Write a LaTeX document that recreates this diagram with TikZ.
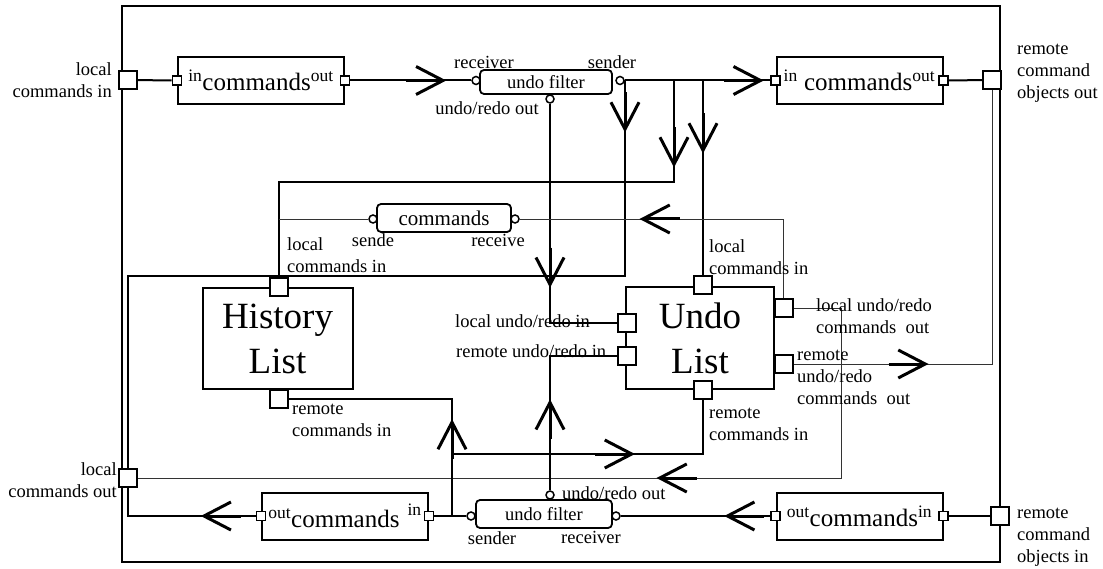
\documentclass[tikz,border=0pt]{standalone}
\usepackage{fontspec}
\setmainfont{Liberation Serif}
\usetikzlibrary{arrows.meta}
\usetikzlibrary{decorations.markings}

\newcommand{\labelsize}{\fontsize{18.5}{22}\selectfont}
\newcommand{\bigsize}{\fontsize{37}{45}\selectfont}
\newcommand{\cmdsize}{\fontsize{25}{30}\selectfont}

\begin{document}
\begin{tikzpicture}[x=1pt,y=-1pt,
    thickline/.style={line width=2pt},
    thinline/.style={line width=0.9pt,black!80},
    flowat/.style={postaction={decorate},decoration={markings,mark=at position #1 with {\draw[line width=3pt,black,-{Straight Barb[length=27pt,width=28pt,line width=3pt]}] (-40pt,0pt) -- (0pt,0pt);}}},
    bigport/.style={draw,line width=2pt,fill=white,minimum size=18pt,inner sep=0pt},
    smallport/.style={draw,line width=1.6pt,fill=white,minimum size=9pt,inner sep=0pt},
    pin/.style={circle,draw,line width=1.5pt,fill=white,minimum size=8pt,inner sep=0pt},
    cmdbox/.style={draw,line width=2pt,minimum width=166pt,minimum height=47pt,inner sep=0pt,font=\cmdsize},
    filter/.style={draw,line width=1.8pt,rounded corners=4pt,minimum width=132pt,minimum height=24pt,inner sep=0pt,font=\labelsize},
    listbox/.style={draw,line width=2pt,minimum width=150pt,minimum height=101pt,align=center,font=\bigsize},
    lbl/.style={font=\labelsize,inner sep=0pt}
  ]
  \fill[white] (0,0) rectangle (1103,569);
  \useasboundingbox (0,0) rectangle (1103,569);

  \node[draw,line width=2.4pt,minimum width=878pt,minimum height=556pt] (system) at (561,284) {};

  \coordinate (dropA) at (625,80.5);
  \coordinate (dropB) at (674,80.5);
  \coordinate (dropC) at (703,80.5);
  \coordinate (bendA) at (625,276);
  \coordinate (bendB) at (127.5,276);
  \coordinate (bendC) at (674,182);
  \coordinate (bendD) at (279,182);
  \coordinate (bendE) at (550,323);
  \coordinate (bendF) at (127.5,516);
  \coordinate (bendG) at (279,219);
  \coordinate (bendH) at (783.5,219);
  \coordinate (bendI) at (841,308);
  \coordinate (bendJ) at (841,478);
  \coordinate (bendK) at (992,364);
  \coordinate (splitA) at (452,516);
  \coordinate (bendL) at (452,398.5);
  \coordinate (splitB) at (452,454);
  \coordinate (bendM) at (703,454);
  \coordinate (bendN) at (550,356);

  \node[cmdbox] (cmdA) at (261,80.5) {\textsuperscript{in}commands\textsuperscript{out}};
  \node[cmdbox] (cmdB) at (859.5,80.5) {\textsuperscript{in} commands\textsuperscript{out}};
  \node[cmdbox] (cmdC) at (345,516) {\textsuperscript{out}commands\kern8pt\raisebox{3pt}{\textsuperscript{in}}};
  \node[cmdbox] (cmdD) at (859.5,516) {\textsuperscript{out}commands\textsuperscript{in}};

  \node[filter] (filtT) at (546,82) {undo filter};
  \node[filter,minimum width=136pt,minimum height=28pt] (filtB) at (544,514) {undo filter};
  \node[filter,minimum width=134pt,minimum height=28pt,font=\fontsize{21}{24}\selectfont] (cmdM) at (444,218) {commands};

  \node[listbox] (hist) at (277.5,338.5) {History\\List};
  \node[listbox,minimum width=148pt] (undo) at (700,338) {Undo\\List};

  \begin{scope}[every node/.style={bigport}]
    \node (lci) at (127.5,80) {};
    \node (rcoo) at (992,80) {};
    \node (lco) at (127.5,478) {};
    \node (rcoi) at (1000,516) {};
    \node (histIn) at (279,287.5) {};
    \node (histRem) at (279,398.5) {};
    \node (undoIn) at (703,285) {};
    \node (undoRem) at (703,390) {};
    \node (undoLin) at (627,323) {};
    \node (undoRin) at (627,356) {};
    \node (undoLout) at (783.5,308) {};
    \node (undoRout) at (783.5,364) {};
  \end{scope}

  \begin{scope}[every node/.style={smallport}]
    \node (cmdAin) at (cmdA.west) {};
    \node (cmdAout) at (cmdA.east) {};
    \node (cmdBin) at (cmdB.west) {};
    \node (cmdBout) at (cmdB.east) {};
    \node (cmdCout) at (cmdC.west) {};
    \node (cmdCin) at (cmdC.east) {};
    \node (cmdDout) at (cmdD.west) {};
    \node (cmdDin) at (cmdD.east) {};
  \end{scope}

  \begin{scope}[every node/.style={pin}]
    \node (filtTrcv) at (476,80.5) {};
    \node (filtTsnd) at (620,80.5) {};
    \node (filtTout) at (550,99) {};
    \node (filtBsnd) at (471,516) {};
    \node (filtBrcv) at (616,516) {};
    \node (filtBout) at (550,495) {};
    \node (cmdMsnd) at (373,219) {};
    \node (cmdMrcv) at (515,219) {};
  \end{scope}

  \draw[thickline] (lci) -- (cmdAin);
  \draw[thickline,flowat=96pt] (cmdAout) -- (filtTrcv);
  \draw[thickline,flowat=139pt] (filtTsnd) -- (cmdBin);
  \draw[thickline] (cmdBout) -- (rcoo);
  \draw[thickline,flowat=52pt] (dropA) -- (bendA) -- (bendB) -- (lco);
  \draw[thickline,flowat=87pt] (dropB) -- (bendC) -- (bendD) -- (histIn);
  \draw[thickline,flowat=73pt] (dropC) -- (undoIn);
  \draw[thickline,flowat=184pt] (filtTout) -- (bendE) -- (undoLin);
  \draw[thinline] (cmdMsnd) -- (bendG);
  \draw[thinline,flowat=223pt] (undoLout) -- (bendH) -- (cmdMrcv);
  \draw[thinline,flowat=402pt] (undoLout) -- (bendI) -- (bendJ) -- (lco);
  \draw[thinline,flowat=135pt] (undoRout) -- (bendK) -- (rcoo);
  \draw[thickline] (rcoi) -- (cmdDin);
  \draw[thickline,flowat=46pt] (cmdDout) -- (filtBrcv);
  \draw[thickline] (filtBsnd) -- (cmdCin);
  \draw[thickline,flowat=55pt] (cmdCout) -- (bendF) -- (lco);
  \draw[thickline,flowat=97pt] (splitA) -- (bendL) -- (histRem);
  \draw[thickline,flowat=183pt] (splitB) -- (bendM) -- (undoRem);
  \draw[thickline,flowat=91pt] (filtBout) -- (bendN) -- (undoRin);

  \begin{scope}[every node/.style={lbl}]
    \node[align=right,anchor=east] (lciLbl) at (112,80) {local\\commands in};
    \node[align=right,anchor=east] (lcoLbl) at (117,480) {local\\commands out};
    \node[align=left,anchor=west] (rcooLbl) at (1017,73) {remote\\command\\objects out};
    \node[align=left,anchor=west] (rcoiLbl) at (1017,537) {remote\\command\\objects in};
    \node (rcvTLbl) at (484,62) {receiver};
    \node (outTLbl) at (487,108) {undo/redo out};
    \node (sndTLbl) at (612,62) {sender};
    \node (sndMLbl) at (373,240) {sende};
    \node (rcvMLbl) at (498,240) {receive};
    \node[align=left,anchor=west] (histInLbl) at (287,255) {local\\commands in};
    \node[align=left,anchor=west] (undoInLbl) at (709,257) {local\\commands in};
    \node[anchor=east] (undoLinLbl) at (590,321) {local undo/redo in};
    \node[anchor=west] (undoRinLbl) at (456,351) {remote undo/redo in};
    \node[align=left,anchor=west] (undoLoutLbl) at (816,316) {local undo/redo\\commands\ \ out};
    \node[align=left,anchor=west] (undoRoutLbl) at (797,377) {remote\\undo/redo\\commands\ \ out};
    \node[align=left,anchor=west] (undoRemLbl) at (709,424) {remote\\commands in};
    \node[align=left,anchor=west] (histRemLbl) at (292,420) {remote\\commands in};
    \node[anchor=west] (outBLbl) at (562,493) {undo/redo out};
    \node (sndBLbl) at (492,538) {sender};
    \node (rcvBLbl) at (591,537) {receiver};
  \end{scope}
\end{tikzpicture}
\end{document}
